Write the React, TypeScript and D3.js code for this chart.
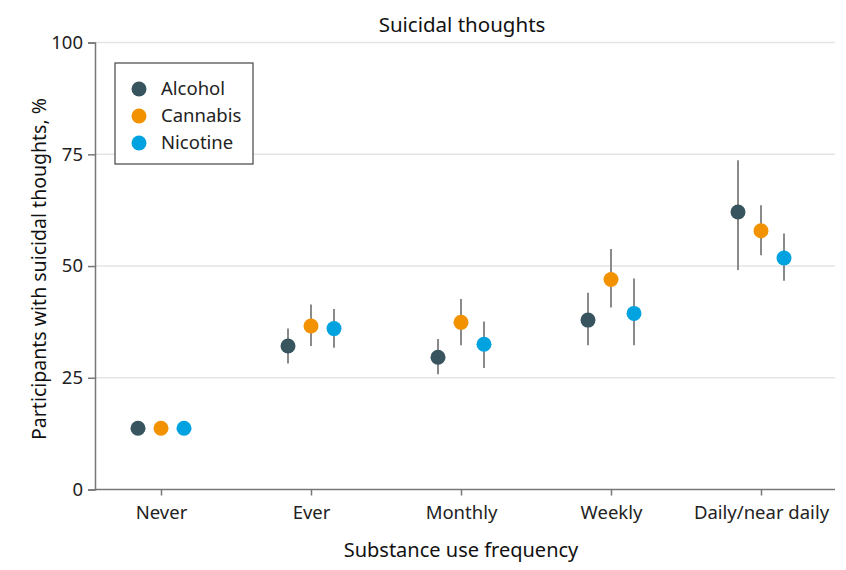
import * as d3 from "d3";
import { useEffect, useRef } from "react";

const categories = ["Never", "Ever", "Monthly", "Weekly", "Daily/near daily"];
const seriesNames = ["Alcohol", "Cannabis", "Nicotine"];
const seriesColors = ["#37545f", "#f39200", "#00a3e0"];

const alcoholMean = [13.7, 32.1, 29.6, 37.9, 62.1];
const alcoholLow = [null, 28.2, 25.8, 32.3, 49.1];
const alcoholHigh = [null, 36.0, 33.7, 44.0, 73.7];

const cannabisMean = [13.7, 36.6, 37.4, 47.0, 57.9];
const cannabisLow = [null, 32.1, 32.3, 40.7, 52.4];
const cannabisHigh = [null, 41.4, 42.6, 53.8, 63.6];

const nicotineMean = [13.7, 36.0, 32.5, 39.4, 51.8];
const nicotineLow = [null, 31.7, 27.2, 32.3, 46.7];
const nicotineHigh = [null, 40.4, 37.6, 47.2, 57.3];

const yTicks = [0, 25, 50, 75, 100];

const width = 846;
const height = 570;
const font = "'Noto Sans', sans-serif";

export default function App() {
    const ref = useRef<SVGSVGElement | null>(null);

    useEffect(() => {
        const svg = d3.select(ref.current);
        svg.selectAll("*").remove();

        const margin = { top: 43, right: 11, bottom: 80, left: 95 };
        const x0 = margin.left;
        const x1 = width - margin.right;

        const x = d3.scalePoint<string>().domain(categories).range([161, 761]);
        const offset = d3.scalePoint<string>().domain(seriesNames).range([-23, 23]);
        const y = d3.scaleLinear().domain([0, 100]).range([489.5, 42.6]);

        // gridlines
        svg.append("g")
            .selectAll("line")
            .data(yTicks.filter((t) => t > 0))
            .join("line")
            .attr("x1", x0)
            .attr("x2", x1)
            .attr("y1", (d) => y(d))
            .attr("y2", (d) => y(d))
            .attr("stroke", "#e4e4e4")
            .attr("stroke-width", 1.5);

        // y axis
        const yAxis = svg.append("g")
            .attr("transform", `translate(${x0},0)`)
            .call(d3.axisLeft(y).tickValues(yTicks).tickSize(7).tickPadding(5));
        yAxis.select(".domain").attr("stroke", "#777").attr("stroke-width", 1.5);
        yAxis.selectAll(".tick line").attr("stroke", "#777").attr("stroke-width", 1.5);
        yAxis.selectAll(".tick text")
            .attr("font-family", font)
            .attr("font-size", 18.5)
            .attr("fill", "#222");

        // x axis
        svg.append("line")
            .attr("x1", x0)
            .attr("x2", x1)
            .attr("y1", y(0))
            .attr("y2", y(0))
            .attr("stroke", "#777")
            .attr("stroke-width", 1.5);
        const xAxis = svg.append("g")
            .attr("transform", `translate(0,${y(0)})`)
            .call(d3.axisBottom(x).tickSize(6).tickPadding(10));
        xAxis.select(".domain").remove();
        xAxis.selectAll(".tick line").attr("stroke", "#777").attr("stroke-width", 1.5);
        xAxis.selectAll(".tick text")
            .attr("font-family", font)
            .attr("font-size", 18.5)
            .attr("fill", "#222");

        const series = [
            { name: "Alcohol", mean: alcoholMean, low: alcoholLow, high: alcoholHigh },
            { name: "Cannabis", mean: cannabisMean, low: cannabisLow, high: cannabisHigh },
            { name: "Nicotine", mean: nicotineMean, low: nicotineLow, high: nicotineHigh },
        ];

        series.forEach((s, si) => {
            const rows = categories.map((c, i) => ({
                cat: c,
                mean: s.mean[i],
                low: s.low[i],
                high: s.high[i],
            }));
            const cx = (d: { cat: string }) => (x(d.cat) ?? 0) + (offset(s.name) ?? 0);

            svg.append("g")
                .selectAll("line")
                .data(rows.filter((d) => d.low != null))
                .join("line")
                .attr("x1", cx)
                .attr("x2", cx)
                .attr("y1", (d) => y(d.low as number))
                .attr("y2", (d) => y(d.high as number))
                .attr("stroke", "#8a8a8a")
                .attr("stroke-width", 2);

            svg.append("g")
                .selectAll("circle")
                .data(rows)
                .join("circle")
                .attr("cx", cx)
                .attr("cy", (d) => y(d.mean))
                .attr("r", 7.5)
                .attr("fill", seriesColors[si]);
        });

        // legend
        const legend = svg.append("g").attr("transform", "translate(115,63)");
        legend.append("rect")
            .attr("width", 138)
            .attr("height", 101)
            .attr("fill", "white")
            .attr("stroke", "#444")
            .attr("stroke-width", 1.2);
        seriesNames.forEach((name, i) => {
            const g = legend.append("g").attr("transform", `translate(24,${26 + i * 27})`);
            g.append("circle").attr("r", 7.5).attr("fill", seriesColors[i]);
            g.append("text")
                .attr("x", 22)
                .attr("dy", "0.35em")
                .attr("font-family", font)
                .attr("font-size", 18.5)
                .attr("fill", "#222")
                .text(name);
        });

        // titles
        svg.append("text")
            .attr("x", 462)
            .attr("y", 32)
            .attr("text-anchor", "middle")
            .attr("font-family", font)
            .attr("font-size", 20.5)
            .attr("fill", "#111")
            .text("Suicidal thoughts");
        svg.append("text")
            .attr("x", 461)
            .attr("y", 557)
            .attr("text-anchor", "middle")
            .attr("font-family", font)
            .attr("font-size", 20)
            .attr("fill", "#111")
            .text("Substance use frequency");
        svg.append("text")
            .attr("transform", `translate(46,269) rotate(-90)`)
            .attr("text-anchor", "middle")
            .attr("font-family", font)
            .attr("font-size", 19.5)
            .attr("fill", "#111")
            .text("Participants with suicidal thoughts, %");
    }, []);

    return (
        <svg
            ref={ref}
            width={width}
            height={height}
            style={{ display: "block", margin: "-8px" }}
        />
    );
}
